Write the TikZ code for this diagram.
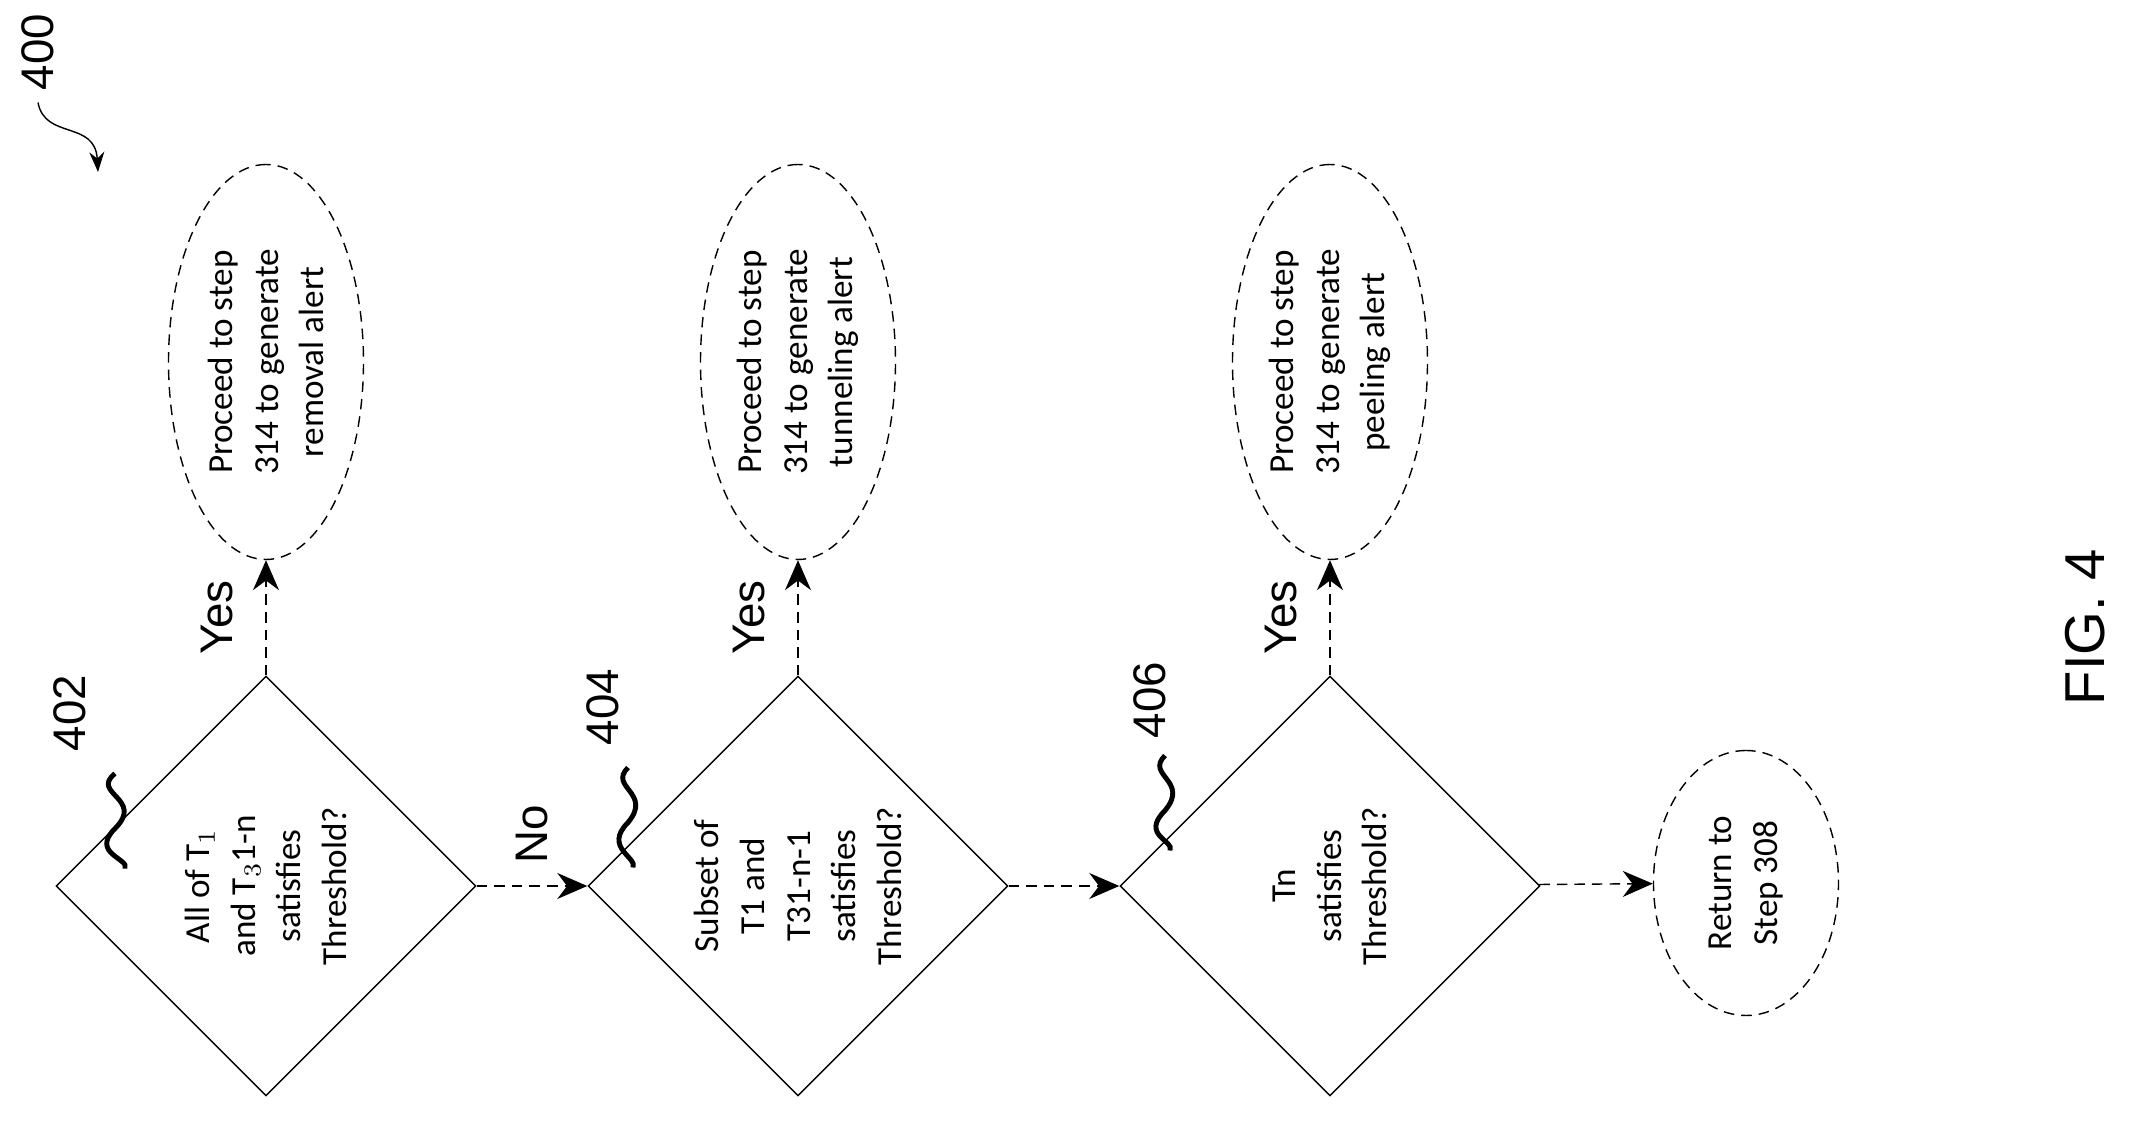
\documentclass[tikz,border=0pt]{standalone}
\usepackage{fontspec}
\setmainfont{Carlito}
\newfontfamily\labelfont{Liberation Sans}
\usetikzlibrary{shapes.geometric,arrows.meta}

\begin{document}
\begin{tikzpicture}[
  test/.style={diamond, draw, thin, aspect=1, minimum size=4.2cm, inner sep=0pt,
    rotate=90, align=center, font=\fontsize{10}{13}\selectfont},
  alert/.style={ellipse, draw, densely dashed, thin, minimum width=3.95cm, minimum height=1.95cm,
    inner sep=0pt, rotate=90, align=center, font=\fontsize{10}{13}\selectfont},
  flow/.style={densely dashed, thin, -{Stealth[length=3mm,width=2.6mm]}},
  tag/.style={rotate=90, font=\labelfont\fontsize{13}{15}\selectfont},
  squig/.style={line width=1.4pt}]
	\useasboundingbox (0,0) rectangle (21.32,-11.21);

	\node[test] (d1) at (2.66,-8.86) {All of T$_1$\\and T$_3$1-n\\satisfies\\Threshold?};
	\node[test] (d2) at (7.98,-8.86) {Subset of\\T1 and\\T31-n-1\\satisfies\\Threshold?};
	\node[test] (d3) at (13.30,-8.86) {Tn\\satisfies\\Threshold?};

	\node[alert] (e1) at (2.66,-3.62) {Proceed to step\\314 to generate\\removal alert};
	\node[alert] (e2) at (7.98,-3.62) {Proceed to step\\314 to generate\\tunneling alert};
	\node[alert] (e3) at (13.30,-3.62) {Proceed to step\\314 to generate\\peeling alert};
	\node[alert, minimum width=2.65cm, minimum height=1.85cm] (ret) at (17.46,-8.83) {Return to\\Step 308};

	% connectors
	\draw[flow] (d1) -- (e1) node[midway, tag, above=6pt] {Yes};
	\draw[flow] (d2) -- (e2) node[midway, tag, above=6pt] {Yes};
	\draw[flow] (d3) -- (e3) node[midway, tag, above=6pt] {Yes};
	\draw[flow] (d1) -- (d2) node[midway, tag, right=3pt] {No};
	\draw[flow] (d2) -- (d3);
	\draw[flow] (d3) -- (ret);

	% reference numerals
	\node[tag] (n400) at (0.38,-0.52) {400};
	\coordinate (p400) at (0.98,-1.72);
	\draw[thin, -{Stealth[length=2mm]}] (n400.west) .. controls (0.45,-1.4) and (0.95,-1.2) .. (p400);

	\node[tag] (n402) at (0.70,-7.13) {402};
	\node[tag] (n404) at (6.03,-7.07) {404};
	\node[tag] (n406) at (11.50,-7.00) {406};
	\draw[squig] (n402.west) ++(0.45,-0.1) .. controls +(-0.25,-0.2) and +(0.3,0.3) .. +(0,-0.55)
	  .. controls +(-0.25,-0.25) and +(0.05,0.1) .. +(0.1,-0.95);
	\draw[squig] (n404.west) ++(0.25,-0.1) .. controls +(-0.2,-0.2) and +(0.25,0.3) .. +(0,-0.55)
	  .. controls +(-0.25,-0.25) and +(0.05,0.1) .. +(0.05,-1.0);
	\draw[squig] (n406.west) ++(0.15,-0.05) .. controls +(-0.2,-0.2) and +(0.25,0.3) .. +(0,-0.55)
	  .. controls +(-0.25,-0.25) and +(0.05,0.1) .. +(0.05,-0.95);

	\node[tag, font=\labelfont\fontsize{16}{18}\selectfont] (fig) at (20.85,-6.27) {FIG. 4};
\end{tikzpicture}
\end{document}
